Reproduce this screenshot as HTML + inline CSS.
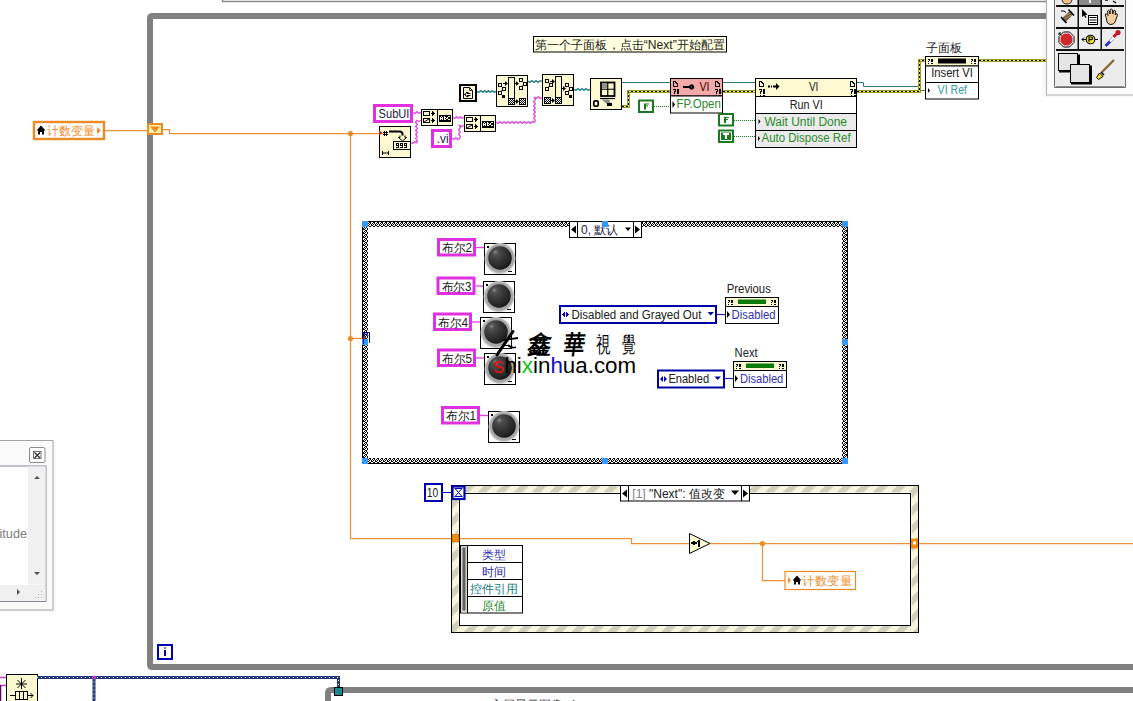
<!DOCTYPE html>
<html><head><meta charset="utf-8">
<style>
html,body{margin:0;padding:0;background:#fff;width:1133px;height:701px;overflow:hidden}
svg{display:block;font-family:"Liberation Sans",sans-serif}
text{font-family:"Liberation Sans",sans-serif}
</style></head><body>
<svg width="1133" height="701" viewBox="0 0 1133 701">
<defs>
  <pattern id="chk" x="2" y="2" width="4" height="4" patternUnits="userSpaceOnUse">
    <rect width="4" height="4" fill="#fff"/>
    <rect x="0" y="0" width="1" height="2" fill="#000"/><rect x="3" y="0" width="1" height="1" fill="#000"/>
    <rect x="2" y="1" width="1" height="1" fill="#000"/><rect x="1" y="2" width="1" height="2" fill="#000"/>
    <rect x="3" y="2" width="1" height="1" fill="#000"/><rect x="2" y="3" width="1" height="1" fill="#000"/>
  </pattern>
  <pattern id="stripe" x="0" y="0" width="12.7" height="12.7" patternUnits="userSpaceOnUse" patternTransform="rotate(45)">
    <rect width="12.7" height="12.7" fill="#f7f5dc"/>
    <rect width="6.3" height="12.7" fill="#cfcfbb"/>
  </pattern>
  <pattern id="refw" x="0" y="0" width="4" height="4" patternUnits="userSpaceOnUse">
    <rect width="4" height="4" fill="#000"/>
    <rect x="1" y="1" width="2" height="2" fill="#f0e040"/>
  </pattern>
</defs>

<!-- top window edge -->
<path d="M222.5 0 V1.5 H1050" fill="none" stroke="#8c8c8c" stroke-width="1.5"/>

<!-- main while loop frame -->
<path d="M1140 16 H152.5 Q150 16 150 18.5 V664.5 Q150 667 152.5 667 H1140" fill="none" stroke="#808080" stroke-width="6"/>

<!-- second frame bottom -->
<path d="M1140 690 H331 Q328 690 328 693 V710" fill="none" stroke="#808080" stroke-width="6"/>

<!-- ===== wires (orange) ===== -->
<g fill="none" stroke="#e8923a" stroke-width="1.25">
  <path d="M105 130.5 H147"/>
  <path d="M163 129.5 H169.5 V133.5 H379"/>
  <path d="M350.5 133.5 V538.5 H452"/>
  <path d="M350.5 338.5 H362"/>
  <path d="M459 538.5 H631.5 V543.5 H689"/>
  <path d="M710 543.5 H911"/>
  <path d="M918 543.5 H1133"/>
  <path d="M762.5 543.5 V580.5 H785"/>
</g>
<circle cx="350.5" cy="133.5" r="2.6" fill="#f08a20"/>
<circle cx="350.5" cy="338.5" r="2.6" fill="#f08a20"/>
<circle cx="762.5" cy="543.5" r="2.6" fill="#f08a20"/>

<!-- local variable left -->
<rect x="34" y="122" width="70" height="17" fill="#fff" stroke="#ec8a26" stroke-width="2.4"/>
<path d="M36.5 130.5 L41 125.5 L45.5 130.5 H44 V134.5 H42 V132 H40 V134.5 H38 V130.5Z" fill="#000"/>
<text x="46.5" y="135" font-size="12" fill="#f09030" textLength="48" lengthAdjust="spacingAndGlyphs">计数变量</text>
<path d="M97 127 L101 130.5 L97 134Z" fill="#f09030"/>

<!-- shift register -->
<rect x="148" y="124" width="14" height="10" fill="#fff0a8" stroke="#ec8a26" stroke-width="2"/>
<path d="M150 126.5 H160 L155 132.5Z" fill="#f08a20"/>


<!-- ===== comment ===== -->
<rect x="533.5" y="36.5" width="193" height="15.5" fill="#ffffe1" stroke="#000" stroke-width="1"/>
<text x="535" y="49" font-size="12" fill="#202020" textLength="190" lengthAdjust="spacingAndGlyphs">第一个子面板，点击“Next”开始配置</text>

<!-- ===== magenta string wires ===== -->
<g fill="none" stroke="#e040e0" stroke-width="1.3">
<path d="M413.0 112.5 L415.0 113.4 L417.0 111.6 L419.0 113.4 L421.0 112.5"/>
<path d="M411.0 142.5 L412.83 143.4 L414.67 141.6 L416.5 142.5 L416.5 142.5 L417.4 140.5 L415.6 138.5 L417.4 136.5 L415.6 134.5 L417.4 132.5 L415.6 130.5 L417.4 128.5 L415.6 126.5 L417.4 124.5 L415.6 122.5 L416.5 120.5 L416.5 120.5 L418.75 121.4 L421.0 120.5"/>
<path d="M453.0 117.5 L454.83 118.4 L456.67 116.6 L458.5 118.4 L460.33 116.6 L462.17 118.4 L464.0 117.5"/>
<path d="M452.0 138.5 L453.88 139.4 L455.75 137.6 L457.62 139.4 L459.5 138.5 L459.5 138.5 L460.4 136.33 L458.6 134.17 L460.4 132.0 L458.6 129.83 L460.4 127.67 L459.5 125.5 L459.5 125.5 L461.75 126.4 L464.0 125.5"/>
<path d="M496.0 122.5 L498.03 123.4 L500.05 121.6 L502.08 123.4 L504.11 121.6 L506.13 123.4 L508.16 121.6 L510.18 123.4 L512.21 121.6 L514.24 123.4 L516.26 121.6 L518.29 123.4 L520.32 121.6 L522.34 123.4 L524.37 121.6 L526.39 123.4 L528.42 121.6 L530.45 123.4 L532.47 121.6 L534.5 122.5 L534.5 122.5 L535.4 120.42 L533.6 118.33 L535.4 116.25 L533.6 114.17 L535.4 112.08 L533.6 110.0 L535.4 107.92 L533.6 105.83 L535.4 103.75 L533.6 101.67 L535.4 99.58 L534.5 97.5 L534.5 97.5 L536.38 98.4 L538.25 96.6 L540.12 98.4 L542.0 97.5"/>
</g>
<!-- teal path wires -->
<g fill="none" stroke="#1f7f80" stroke-width="1.4">
<path d="M477.0 91.5 L478.9 92.3 L480.8 90.7 L482.7 92.3 L484.6 90.7 L486.5 92.3 L488.4 90.7 L490.3 92.3 L492.2 90.7 L494.1 92.3 L496.0 91.5"/>
<path d="M528.0 81.5 L530.0 82.3 L532.0 80.7 L534.0 82.3 L536.0 80.7 L538.0 82.3 L540.0 80.7 L542.0 81.5"/>
<path d="M574.0 89.5 L576.0 90.3 L578.0 88.7 L580.0 90.3 L582.0 88.7 L584.0 90.3 L586.0 88.7 L588.0 90.3 L590.0 89.5"/>
</g>
<g fill="none" stroke="#2f7880" stroke-width="1">
  <path d="M622 82.5 H670"/>
  <path d="M723 82.5 H755"/>
  <path d="M857 82.5 H863.5 V86.5 H919.5 V90.5 H925"/>
</g>
<!-- refnum wires (yellow/black) -->
<g fill="none">
  <path d="M622 106.5 H628.5 V91.5 H670 M723 91.5 H755 M857 91.5 H919.5 V60.5 H925 M979 60.5 H1050" stroke="#9c9c20" stroke-width="3"/>
  <path d="M622 106.5 H628.5 V91.5 H670 M723 91.5 H755 M857 91.5 H919.5 V60.5 H925 M979 60.5 H1050" stroke="#f2f048" stroke-width="1"/>
  <path d="M622 106.5 H628.5 V91.5 H670 M723 91.5 H755 M857 91.5 H919.5 V60.5 H925 M979 60.5 H1050" stroke="#000" stroke-width="1" stroke-dasharray="2 2"/>
</g>
<!-- green boolean wires -->
<g fill="none" stroke="#1a7a1a" stroke-width="1" stroke-dasharray="1 1">
  <path d="M654 106.5 H670"/>
  <path d="M734 120.5 H755"/>
  <path d="M734 136.5 H755"/>
</g>

<!-- SubUI constant -->
<rect x="374.5" y="105.5" width="37" height="16" fill="#fff" stroke="#e030e0" stroke-width="3"/>
<text x="378.6" y="117.5" font-size="12" fill="#202040" textLength="30.8" lengthAdjust="spacingAndGlyphs">SubUI</text>
<!-- .vi constant -->
<rect x="432.5" y="130.5" width="18" height="16" fill="#fff" stroke="#e030e0" stroke-width="3"/>
<text x="436.8" y="142.5" font-size="12" fill="#202040" textLength="11.8" lengthAdjust="spacingAndGlyphs">.vi</text>

<!-- Number to string -->
<g>
<rect x="379.5" y="126.5" width="31" height="31" fill="#fcf8d0" stroke="#000" stroke-width="1"/>
<path d="M379 130.5 L383 133 L379 135.5Z" fill="#d02010"/>
<path d="M384 131h1v1h-1zM386 131h1v1h-1zM383 132h5v1h-5zM384 133h1v1h-1zM386 133h1v1h-1zM383 134h5v1h-5zM384 135h1v1h-1zM386 135h1v1h-1z" fill="#000"/>
<path d="M389 131.5 H399.5 Q402.5 131.5 402.5 134 V136.5" fill="none" stroke="#000" stroke-width="2"/>
<path d="M400 135.5 V137.5 H398.5 L402.5 141 L406.5 137.5 H405 V135.5" fill="#fcf8d0" stroke="#000" stroke-width="1"/>
<rect x="393.5" y="141.5" width="17" height="8" fill="#fcf8d0" stroke="#000" stroke-width="1"/>
<path d="M396 143h3v1h-3zM400 143h3v1h-3zM404 143h3v1h-3zM396 144h1v1h-1zM398 144h1v1h-1zM400 144h1v1h-1zM402 144h1v1h-1zM404 144h1v1h-1zM406 144h1v1h-1zM396 145h3v1h-3zM400 145h3v1h-3zM404 145h3v1h-3zM398 146h1v1h-1zM402 146h1v1h-1zM406 146h1v1h-1zM396 147h3v1h-3zM400 147h3v1h-3zM404 147h3v1h-3z" fill="#000"/>
<path d="M382.5 151 V155 M388.5 151 V155 M383 153 H388" stroke="#000" stroke-width="1" fill="none"/>
</g>
<!-- Concat 1 & 2 -->
<g id="cc">
<rect x="421.5" y="109.5" width="31" height="16" fill="#fcf8d0" stroke="#000" stroke-width="1"/>
<path d="M437.5 109.5 V125.5" stroke="#000" stroke-width="1"/>
<rect x="423.5" y="111.5" width="6" height="4" fill="#fcf8d0" stroke="#000" stroke-width="1"/>
<rect x="423.5" y="118.5" width="6" height="4" fill="#fcf8d0" stroke="#000" stroke-width="1"/>
<path d="M424 122 L429 119" stroke="#000" stroke-width="1"/>
<path d="M433 112h1v1h-1zM431 113h4v1h-4zM433 114h1v1h-1zM433 119h1v1h-1zM431 120h4v1h-4zM433 121h1v1h-1zM432 111h1v5h-1z M432 118h1v5h-1z" fill="#000"/>
<rect x="439" y="115" width="12" height="7" fill="#000"/>
<path d="M441 116h1v1h-1zM444 116h1v1h-1zM448 116h2v1h-2zM440 117h1v1h-1zM442 117h1v1h-1zM444 117h2v1h-2zM447 117h1v1h-1zM440 118h3v1h-3zM444 118h1v1h-1zM446 118h2v1h-2zM440 119h1v1h-1zM442 119h1v1h-1zM444 119h2v1h-2zM448 119h2v1h-2z" fill="#fcf8d0"/>
</g>
<use href="#cc" x="43" y="6"/>

<!-- File path constant icon -->
<rect x="459" y="84" width="18" height="18" fill="#000"/>
<rect x="461" y="86" width="14" height="14" fill="#fcf8d8"/>
<path d="M463.5 87.5 H469.5 L472.5 90.5 V98.5 H463.5Z" fill="#fcf8d8" stroke="#000" stroke-width="1"/>
<path d="M469.5 87.5 V90.5 H472.5" fill="none" stroke="#000" stroke-width="0.8"/>
<path d="M468.5 92.5 H467 Q465.5 92.5 465.5 94.5 Q465.5 96.5 467 96.5 H468.5 M467 93.5 H470.5 M467 95.5 H470.5 M465 94.5 H464" fill="none" stroke="#000" stroke-width="1"/>
<!-- Node A -->
<g>
<rect x="496.5" y="75.5" width="31" height="31" fill="#fcf8d0" stroke="#000" stroke-width="1"/>
<rect x="508.5" y="77.5" width="6" height="21" fill="#fcf8d0" stroke="#000" stroke-width="1"/>
<rect x="508" y="98" width="7" height="7" fill="#000"/><rect x="509" y="99" width="1" height="1" fill="#fff"/><rect x="511" y="99" width="1" height="1" fill="#fff"/><rect x="513" y="99" width="1" height="1" fill="#fff"/><rect x="510" y="100" width="1" height="1" fill="#fff"/><rect x="512" y="100" width="1" height="1" fill="#fff"/><rect x="509" y="101" width="1" height="1" fill="#fff"/><rect x="511" y="101" width="1" height="1" fill="#fff"/><rect x="513" y="101" width="1" height="1" fill="#fff"/><rect x="510" y="102" width="1" height="1" fill="#fff"/><rect x="512" y="102" width="1" height="1" fill="#fff"/><rect x="509" y="103" width="1" height="1" fill="#fff"/><rect x="511" y="103" width="1" height="1" fill="#fff"/><rect x="513" y="103" width="1" height="1" fill="#fff"/>
<rect x="519" y="98" width="7" height="7" fill="#000"/><rect x="520" y="99" width="1" height="1" fill="#fff"/><rect x="522" y="99" width="1" height="1" fill="#fff"/><rect x="524" y="99" width="1" height="1" fill="#fff"/><rect x="521" y="100" width="1" height="1" fill="#fff"/><rect x="523" y="100" width="1" height="1" fill="#fff"/><rect x="520" y="101" width="1" height="1" fill="#fff"/><rect x="522" y="101" width="1" height="1" fill="#fff"/><rect x="524" y="101" width="1" height="1" fill="#fff"/><rect x="521" y="102" width="1" height="1" fill="#fff"/><rect x="523" y="102" width="1" height="1" fill="#fff"/><rect x="520" y="103" width="1" height="1" fill="#fff"/><rect x="522" y="103" width="1" height="1" fill="#fff"/><rect x="524" y="103" width="1" height="1" fill="#fff"/>
<path d="M515 102h1v-1h-1z M516 99 L519 101.5 L516 104Z" fill="#000"/>
<rect x="498.5" y="83.5" width="3" height="3" fill="none" stroke="#000" stroke-width="1"/>
<rect x="502.5" y="87.5" width="3" height="3" fill="none" stroke="#000" stroke-width="1"/>
<rect x="498.5" y="91.5" width="3" height="3" fill="none" stroke="#000" stroke-width="1"/>
<rect x="502" y="95" width="3" height="3" fill="#000"/>
<path d="M501.5 86.5 L502.5 87.5" stroke="#000" stroke-width="1"/>
<path d="M501.5 90.5 L502.5 89.5" stroke="#000" stroke-width="1"/>
<path d="M501.5 94.5 L502.5 95.5" stroke="#000" stroke-width="1"/>
<path d="M503 84h2v-1h-2z M505 81 L508 83.5 L505 86Z" fill="#000"/>
<rect x="519.5" y="78.5" width="3" height="3" fill="none" stroke="#000" stroke-width="1"/>
<rect x="523.5" y="82.5" width="3" height="3" fill="none" stroke="#000" stroke-width="1"/>
<rect x="519.5" y="86.5" width="3" height="3" fill="none" stroke="#000" stroke-width="1"/>
<path d="M522.5 81.5 L523.5 82.5" stroke="#000" stroke-width="1"/>
<path d="M522.5 85.5 L523.5 84.5" stroke="#000" stroke-width="1"/>
<path d="M515 84h1v-1h-1z M516 81 L519 83.5 L516 86Z" fill="#000"/>
</g>
<!-- Node B -->
<g>
<rect x="542.5" y="74.5" width="31" height="31" fill="#fcf8d0" stroke="#000" stroke-width="1"/>
<rect x="555.5" y="76.5" width="6" height="21" fill="#fcf8d0" stroke="#000" stroke-width="1"/>
<rect x="544" y="97" width="7" height="7" fill="#000"/><rect x="545" y="98" width="1" height="1" fill="#fff"/><rect x="547" y="98" width="1" height="1" fill="#fff"/><rect x="549" y="98" width="1" height="1" fill="#fff"/><rect x="546" y="99" width="1" height="1" fill="#fff"/><rect x="548" y="99" width="1" height="1" fill="#fff"/><rect x="545" y="100" width="1" height="1" fill="#fff"/><rect x="547" y="100" width="1" height="1" fill="#fff"/><rect x="549" y="100" width="1" height="1" fill="#fff"/><rect x="546" y="101" width="1" height="1" fill="#fff"/><rect x="548" y="101" width="1" height="1" fill="#fff"/><rect x="545" y="102" width="1" height="1" fill="#fff"/><rect x="547" y="102" width="1" height="1" fill="#fff"/><rect x="549" y="102" width="1" height="1" fill="#fff"/>
<rect x="555" y="97" width="7" height="7" fill="#000"/><rect x="556" y="98" width="1" height="1" fill="#fff"/><rect x="558" y="98" width="1" height="1" fill="#fff"/><rect x="560" y="98" width="1" height="1" fill="#fff"/><rect x="557" y="99" width="1" height="1" fill="#fff"/><rect x="559" y="99" width="1" height="1" fill="#fff"/><rect x="556" y="100" width="1" height="1" fill="#fff"/><rect x="558" y="100" width="1" height="1" fill="#fff"/><rect x="560" y="100" width="1" height="1" fill="#fff"/><rect x="557" y="101" width="1" height="1" fill="#fff"/><rect x="559" y="101" width="1" height="1" fill="#fff"/><rect x="556" y="102" width="1" height="1" fill="#fff"/><rect x="558" y="102" width="1" height="1" fill="#fff"/><rect x="560" y="102" width="1" height="1" fill="#fff"/>
<path d="M551 101h1v-1h-1z M552 98 L555 100.5 L552 103Z" fill="#000"/>
<rect x="545.5" y="79.5" width="3" height="3" fill="none" stroke="#000" stroke-width="1"/>
<rect x="549.5" y="83.5" width="3" height="3" fill="none" stroke="#000" stroke-width="1"/>
<rect x="545.5" y="87.5" width="3" height="3" fill="none" stroke="#000" stroke-width="1"/>
<path d="M548.5 82.5 L549.5 83.5" stroke="#000" stroke-width="1"/>
<path d="M548.5 86.5 L549.5 85.5" stroke="#000" stroke-width="1"/>
<path d="M550 82h2v-1h-2z M552 79 L555 81.5 L552 84Z" fill="#000"/>
<rect x="565.5" y="83.5" width="3" height="3" fill="none" stroke="#000" stroke-width="1"/>
<rect x="569.5" y="87.5" width="3" height="3" fill="none" stroke="#000" stroke-width="1"/>
<rect x="565.5" y="91.5" width="3" height="3" fill="none" stroke="#000" stroke-width="1"/>
<rect x="569" y="95" width="3" height="3" fill="#000"/>
<path d="M568.5 86.5 L569.5 87.5" stroke="#000" stroke-width="1"/>
<path d="M568.5 90.5 L569.5 89.5" stroke="#000" stroke-width="1"/>
<path d="M568.5 94.5 L569.5 95.5" stroke="#000" stroke-width="1"/>
<path d="M562 89h1v-1h-1z M563 86 L566 88.5 L563 91Z" fill="#000"/>
</g>
<!-- Node C (index/subpanel ref) -->
<g>
<rect x="590.5" y="78.5" width="31" height="31" fill="#fcf8d0" stroke="#000" stroke-width="1"/>
<rect x="601" y="82.5" width="13.5" height="13.5" fill="#fcf8d0" stroke="#000" stroke-width="1.8"/>
<path d="M607.75 82.5 V96 M601 89.25 H614.5" stroke="#000" stroke-width="1.2"/>
<rect x="602" y="83.5" width="5" height="5" fill="#909090"/>
<path d="M600 98.5 H615" stroke="#000" stroke-width="1.2"/>
<path d="M601.5 99.5 H609 L611 104 H607Z" fill="#8a8a8a"/>
<rect x="607" y="103" width="5" height="3" fill="#000"/>
<rect x="593.8" y="100.8" width="4.4" height="5.4" fill="none" stroke="#000" stroke-width="1.7" rx="1.5"/>
</g>
<!-- F constant -->
<rect x="639" y="100.5" width="14" height="11.5" fill="#fff" stroke="#1a7a22" stroke-width="2"/><path d="M644 103.5h5v1h-5zM644 104.5h2v1h-2zM644 105.5h4v1h-4zM644 106.5h2v1h-2zM644 107.5h2v1h-2zM644 108.5h2v1h-2z" fill="#1a7a22"/>

<!-- Property node FP.Open -->
<rect x="670.5" y="78.5" width="52" height="17.5" fill="#f4a9a9" stroke="#000" stroke-width="1"/>
<rect x="670.5" y="96" width="52" height="17" fill="#fff" stroke="#000" stroke-width="1"/>
<path d="M673 81h3v1h-3zM673 82h1v1h-1zM675 82h2v1h-2zM673 83h1v1h-1zM676 83h2v1h-2zM673 84h1v1h-1zM677 84h1v1h-1zM673 85h1v1h-1zM677 85h1v1h-1zM673 86h5v1h-5zM715 81h3v1h-3zM715 82h1v1h-1zM717 82h2v1h-2zM715 83h1v1h-1zM718 83h2v1h-2zM715 84h1v1h-1zM719 84h1v1h-1zM715 85h1v1h-1zM719 85h1v1h-1zM715 86h5v1h-5zM673 89h3v1h-3zM677 89h2v1h-2zM675 90h1v1h-1zM677 90h2v1h-2zM674 91h2v1h-2zM677 91h2v1h-2zM674 92h1v1h-1zM677 92h2v1h-2zM674 93h1v1h-1zM677 93h2v1h-2zM674 95h1v1h-1zM677 95h2v1h-2zM715 89h3v1h-3zM719 89h2v1h-2zM717 90h1v1h-1zM719 90h2v1h-2zM716 91h2v1h-2zM719 91h2v1h-2zM716 92h1v1h-1zM719 92h2v1h-2zM716 93h1v1h-1zM719 93h2v1h-2zM716 95h1v1h-1zM719 95h2v1h-2z" fill="#000"/>
<path d="M683 87 H690 M690 87 A1.6 1.6 0 1 0 690 86.99" stroke="#000" stroke-width="2.2" fill="none"/>
<text x="699.5" y="91" font-size="12" fill="#400000" textLength="10" lengthAdjust="spacingAndGlyphs">VI</text>
<path d="M672.5 101 L675 104.5 L672.5 108Z" fill="#000"/>
<text x="676.4" y="108.3" font-size="12" fill="#2a8a2a" textLength="44.4" lengthAdjust="spacingAndGlyphs">FP.Open</text>

<!-- F / T constants for invoke -->
<rect x="719" y="114" width="14" height="11.5" fill="#fff" stroke="#1a7a22" stroke-width="2"/><path d="M724 117h5v1h-5zM724 118h2v1h-2zM724 119h4v1h-4zM724 120h2v1h-2zM724 121h2v1h-2zM724 122h2v1h-2z" fill="#1a7a22"/>
<rect x="718" y="129.5" width="16" height="13.5" fill="#1a7a22"/><rect x="720.5" y="132.0" width="11" height="8.5" fill="#1a7a22" stroke="#fff" stroke-width="1"/><path d="M723 133.0h6v1h-6zM723 134.0h6v1h-6zM725 135.0h2v1h-2zM725 136.0h2v1h-2zM725 137.0h2v1h-2zM725 138.0h2v1h-2z" fill="#fff"/>

<!-- Invoke node Run VI -->
<rect x="755.5" y="78.5" width="101" height="18" fill="#fcf8d0" stroke="#000" stroke-width="1"/>
<rect x="755.5" y="96.5" width="101" height="17" fill="#fff" stroke="#000" stroke-width="1"/>
<rect x="755.5" y="113.5" width="101" height="17" fill="#ebebeb" stroke="#000" stroke-width="1"/>
<rect x="755.5" y="130.5" width="101" height="17" fill="#ebebeb" stroke="#000" stroke-width="1"/>
<path d="M759 81h3v1h-3zM759 82h1v1h-1zM761 82h2v1h-2zM759 83h1v1h-1zM762 83h2v1h-2zM759 84h1v1h-1zM763 84h1v1h-1zM759 85h1v1h-1zM763 85h1v1h-1zM759 86h5v1h-5zM850 81h3v1h-3zM850 82h1v1h-1zM852 82h2v1h-2zM850 83h1v1h-1zM853 83h2v1h-2zM850 84h1v1h-1zM854 84h1v1h-1zM850 85h1v1h-1zM854 85h1v1h-1zM850 86h5v1h-5zM759 89h3v1h-3zM763 89h2v1h-2zM761 90h1v1h-1zM763 90h2v1h-2zM760 91h2v1h-2zM763 91h2v1h-2zM760 92h1v1h-1zM763 92h2v1h-2zM760 93h1v1h-1zM763 93h2v1h-2zM760 95h1v1h-1zM763 95h2v1h-2zM850 89h3v1h-3zM854 89h2v1h-2zM852 90h1v1h-1zM854 90h2v1h-2zM851 91h2v1h-2zM854 91h2v1h-2zM851 92h1v1h-1zM854 92h2v1h-2zM851 93h1v1h-1zM854 93h2v1h-2zM851 95h1v1h-1zM854 95h2v1h-2z" fill="#000"/>
<path d="M768 86.5 H770 M771 86.5 H772 M773 86.5 H778" stroke="#000" stroke-width="2" fill="none"/>
<path d="M776 83 L779.5 86.5 L776 90Z" fill="#000"/>
<text x="808.9" y="90.5" font-size="12" fill="#202020" textLength="9.5" lengthAdjust="spacingAndGlyphs">VI</text>
<text x="789.8" y="108.5" font-size="12" fill="#202020" textLength="33" lengthAdjust="spacingAndGlyphs">Run VI</text>
<path d="M758.5 119 L760.5 121.5 L758.5 124Z" fill="#000"/>
<text x="764.4" y="125.5" font-size="12" fill="#2a8a2a" textLength="82.6" lengthAdjust="spacingAndGlyphs">Wait Until Done</text>
<path d="M758 136 L760 138.5 L758 141Z" fill="#000"/>
<text x="761.6" y="142" font-size="12" fill="#2a8a2a" textLength="89" lengthAdjust="spacingAndGlyphs">Auto Dispose Ref</text>

<!-- Subpanel Insert VI -->
<text x="926" y="52" font-size="12" fill="#202020" textLength="36" lengthAdjust="spacingAndGlyphs">子面板</text>
<rect x="925.5" y="56.5" width="53" height="9.5" fill="#fcf8d0" stroke="#000" stroke-width="1"/>
<rect x="925.5" y="66" width="53" height="16.5" fill="#fff" stroke="#000" stroke-width="1"/>
<rect x="925.5" y="82.5" width="53" height="16.5" fill="#fff" stroke="#000" stroke-width="1"/>
<path d="M928 59h2v1h-2zM931 59h2v1h-2zM929 60h1v1h-1zM931 60h2v1h-2zM928 61h1v1h-1zM931 61h2v1h-2zM928 63h1v1h-1zM931 63h2v1h-2zM971 59h2v1h-2zM974 59h2v1h-2zM972 60h1v1h-1zM974 60h2v1h-2zM971 61h1v1h-1zM974 61h2v1h-2zM971 63h1v1h-1zM974 63h2v1h-2z" fill="#000"/>
<rect x="938" y="58.5" width="28" height="5" fill="#000"/>
<text x="931.2" y="77.4" font-size="12" fill="#202020" textLength="41.7" lengthAdjust="spacingAndGlyphs">Insert VI</text>
<path d="M928 88 L930 90.5 L928 93Z" fill="#000"/>
<text x="937.6" y="94.3" font-size="12" fill="#3a9aa0" textLength="29.4" lengthAdjust="spacingAndGlyphs">VI Ref</text>


<!-- ===== tools palette ===== -->
<g>
<rect x="1043" y="-6" width="100" height="103" fill="#000" opacity="0.03"/>
<rect x="1046.5" y="-2" width="90" height="97" fill="#fdfdfd" stroke="#b0b0b0" stroke-width="1"/>
<rect x="1054" y="-2" width="72" height="89.5" fill="#ececec"/>
<path d="M1054.5 -2 V87.5 H1125.5 V-2" fill="none" stroke="#6a6a6a" stroke-width="1"/>
<rect x="1078" y="-2" width="23" height="8" fill="#8a8a8a"/>
<g fill="#111">
<rect x="1056" y="5" width="68" height="2"/>
<rect x="1056" y="27" width="68" height="2"/>
<rect x="1056" y="49" width="68" height="2"/>
<rect x="1077.5" y="-2" width="1.5" height="51"/>
<rect x="1100.5" y="-2" width="1.5" height="51"/>
</g>
<path d="M1056 86.5 H1124" stroke="#909090" stroke-width="1"/>
<!-- top row partial -->
<path d="M1062 -1 Q1062 4 1067 4 Q1072 4 1072 -1Z" fill="#f4c090" stroke="#000" stroke-width="0.8"/>
<rect x="1089" y="-2" width="2" height="5" fill="#fff"/>
<path d="M1105 0 H1108 M1113 1 L1116 3" stroke="#000" stroke-width="1.5"/>
<!-- spool -->
<path d="M1061.5 19 L1070 10.5 L1073.5 14 L1065 22.5Z" fill="#7a6040"/>
<path d="M1061 17 L1066.5 23 M1068.5 9.5 L1074 15.5" stroke="#000" stroke-width="1.6"/>
<path d="M1063.5 16.5 L1070.5 13 M1064.5 18.5 L1071.5 15" stroke="#c8a878" stroke-width="0.6"/>
<path d="M1061 11 H1064 L1066 12.5" stroke="#000" stroke-width="1" fill="none"/>
<!-- pointer + list -->
<path d="M1082 9 L1082 17 L1084 15.5 L1085.5 18 L1086.5 17.5 L1085.2 15 L1087.5 14.5Z" fill="#000"/>
<rect x="1088.5" y="15.5" width="9" height="9" fill="#fff" stroke="#000" stroke-width="1"/>
<path d="M1089.5 17.5 H1096.5 M1089.5 20 H1096.5 M1089.5 22.5 H1096.5" stroke="#000" stroke-width="1"/>
<!-- hand -->
<path d="M1106 17 Q1104.5 14.5 1106 13.5 L1108 15.5 L1107.5 11 Q1108.5 9.5 1109.5 11 L1110 14 L1110.3 9.5 Q1111.5 8.5 1112.5 9.8 L1112.7 14 L1113.8 10.5 Q1115 9.8 1115.5 11 L1115.2 15 L1116.3 13.5 Q1117.8 13.5 1117.4 15.5 L1115 22 Q1114 24.5 1111 24.5 Q1108 24.5 1107 22Z" fill="#f8cc9c" stroke="#000" stroke-width="0.9"/>
<!-- stop -->
<path d="M1063.5 32 H1069.5 L1074 36.5 V42.5 L1069.5 47 H1063.5 L1059 42.5 V36.5Z" fill="#fff" stroke="#000" stroke-width="1"/>
<path d="M1064 33.5 H1069 L1072.5 37 V42 L1069 45.5 H1064 L1060.5 42 V37Z" fill="#d02828"/>
<path d="M1059 33 L1061.5 35.5 M1059 33 H1061 M1059 33 V35" stroke="#000" stroke-width="1"/>
<!-- probe -->
<circle cx="1090.5" cy="39.5" r="4.3" fill="#f0e830" stroke="#000" stroke-width="1.1"/>
<path d="M1089 42 V37 H1091.3 Q1092.5 37 1092.5 38.3 Q1092.5 39.6 1091.3 39.6 H1089" fill="none" stroke="#000" stroke-width="1.1"/>
<path d="M1082 39.5 H1086 M1095 39.5 H1098" stroke="#000" stroke-width="1"/>
<path d="M1084 37.5 L1082 39.5 L1084 41.5" fill="none" stroke="#000" stroke-width="1"/>
<!-- dropper -->
<path d="M1105.5 46 L1113 38.5" stroke="#2838b8" stroke-width="3"/>
<path d="M1110 41.5 L1114.5 37" stroke="#fff" stroke-width="2.4"/>
<path d="M1113.5 37 L1116.5 34" stroke="#c01828" stroke-width="3"/>
<circle cx="1118" cy="32.5" r="2.6" fill="#c81830"/>
<!-- color squares -->
<rect x="1058.5" y="53.5" width="19" height="17" fill="#e4e4e4" stroke="#000" stroke-width="1"/>
<path d="M1059 71.5 H1079 V54.5" stroke="#000" stroke-width="2" fill="none"/>
<rect x="1070.5" y="64.5" width="19" height="18" fill="#e4e4e4" stroke="#000" stroke-width="1"/>
<path d="M1071 83.5 H1091 V65.5" stroke="#000" stroke-width="2" fill="none"/>
<!-- brush -->
<path d="M1102 72 L1114 60" stroke="#8a6a40" stroke-width="2.4"/>
<path d="M1099.5 73 L1103 76.5 L1098.5 79.5 L1096.5 77.5Z" fill="#f0e020" stroke="#000" stroke-width="1"/>
<path d="M1101 72 L1104 75" stroke="#000" stroke-width="1.5"/>
</g>

<!-- ===== case structure ===== -->
<g>
<rect x="365.5" y="224.5" width="479" height="236" fill="none" stroke="url(#chk)" stroke-width="5"/>
<rect x="362.5" y="221.5" width="485" height="242" fill="none" stroke="#000" stroke-width="1"/>
<g fill="#3399ff">
<rect x="362" y="221" width="6" height="6"/><rect x="602" y="221" width="6" height="6"/><rect x="842" y="221" width="6" height="6"/>
<rect x="362" y="339" width="6" height="6"/><rect x="842" y="339" width="6" height="6"/>
<rect x="362" y="458" width="6" height="6"/><rect x="602" y="458" width="6" height="6"/><rect x="842" y="458" width="6" height="6"/>
</g>
<!-- case selector terminal -->
<path d="M363.5 344 V332.5 H369.5 V343" fill="none" stroke="#0000a0" stroke-width="1"/>
<path d="M366 338 A2 2 0 1 1 368 336" fill="none" stroke="#0000a0" stroke-width="1"/>
<path d="M363 336 L366 338.5 L363 340Z" fill="#d01010"/>
<!-- case label -->
<rect x="569.5" y="221.5" width="72" height="16" fill="#fff" stroke="#000" stroke-width="1"/>
<path d="M577.5 221.5 V237.5 M633.5 221.5 V237.5" stroke="#000" stroke-width="1"/>
<path d="M571 229.5 L576 225.5 V233.5Z M640 229.5 L635 225.5 V233.5Z" fill="#000"/>
<path d="M625 227.5 H631 L628 231Z" fill="#000"/>
<text x="581" y="234" font-size="12" fill="#202040">0, 默认</text>
<rect x="602" y="221" width="6" height="6" fill="#3399ff"/>
</g>

<!-- labels + LEDs -->
<g id="leds">
<defs><radialGradient id="ball" cx="0.35" cy="0.32" r="0.75" fx="0.3" fy="0.25"><stop offset="0" stop-color="#8c8c8c"/><stop offset="0.15" stop-color="#505050"/><stop offset="0.5" stop-color="#363636"/><stop offset="0.85" stop-color="#222"/><stop offset="1" stop-color="#0e0e0e"/></radialGradient>
<radialGradient id="ring" cx="0.5" cy="0.5" r="0.5"><stop offset="0.75" stop-color="#a8a8a8"/><stop offset="1" stop-color="#cfcfcf"/></radialGradient></defs>
<path d="M476 247.5 H484" stroke="#e448e4" stroke-width="1.4"/>
<rect x="438.5" y="239.5" width="36" height="15.5" fill="#fff" stroke="#e030e0" stroke-width="3"/>
<text x="442" y="252" font-size="12" fill="#202020" textLength="30" lengthAdjust="spacingAndGlyphs">布尔2</text>
<rect x="484.5" y="243.5" width="31" height="31" fill="#fff" stroke="#000" stroke-width="1"/>
<circle cx="500" cy="258.5" r="15.4" fill="#cdcdcd"/><circle cx="500" cy="258.5" r="14.2" fill="#a6a6a6"/>
<circle cx="500" cy="258.0" r="11.8" fill="url(#ball)"/>
<path d="M508 271.5 H512" stroke="#000" stroke-width="1"/>
<path d="M475.5 286.0 H483" stroke="#e448e4" stroke-width="1.4"/>
<rect x="438.0" y="278.0" width="36" height="15.5" fill="#fff" stroke="#e030e0" stroke-width="3"/>
<text x="441.5" y="290.5" font-size="12" fill="#202020" textLength="30" lengthAdjust="spacingAndGlyphs">布尔3</text>
<rect x="483.5" y="281.5" width="31" height="31" fill="#fff" stroke="#000" stroke-width="1"/>
<circle cx="499" cy="296.5" r="15.4" fill="#cdcdcd"/><circle cx="499" cy="296.5" r="14.2" fill="#a6a6a6"/>
<circle cx="499" cy="296.0" r="11.8" fill="url(#ball)"/>
<path d="M507 309.5 H511" stroke="#000" stroke-width="1"/>
<path d="M472 322.0 H480" stroke="#e448e4" stroke-width="1.4"/>
<rect x="434.5" y="314.0" width="36" height="15.5" fill="#fff" stroke="#e030e0" stroke-width="3"/>
<text x="438" y="326.5" font-size="12" fill="#202020" textLength="30" lengthAdjust="spacingAndGlyphs">布尔4</text>
<rect x="480.5" y="317.5" width="31" height="31" fill="#fff" stroke="#000" stroke-width="1"/>
<circle cx="496" cy="332.5" r="15.4" fill="#cdcdcd"/><circle cx="496" cy="332.5" r="14.2" fill="#a6a6a6"/>
<circle cx="496" cy="332.0" r="11.8" fill="url(#ball)"/>
<path d="M504 345.5 H508" stroke="#000" stroke-width="1"/>
<path d="M476 358.0 H484" stroke="#e448e4" stroke-width="1.4"/>
<rect x="438.5" y="350.0" width="36" height="15.5" fill="#fff" stroke="#e030e0" stroke-width="3"/>
<text x="442" y="362.5" font-size="12" fill="#202020" textLength="30" lengthAdjust="spacingAndGlyphs">布尔5</text>
<rect x="484.5" y="353.5" width="31" height="31" fill="#fff" stroke="#000" stroke-width="1"/>
<circle cx="500" cy="368.5" r="15.4" fill="#cdcdcd"/><circle cx="500" cy="368.5" r="14.2" fill="#a6a6a6"/>
<circle cx="500" cy="368.0" r="11.8" fill="url(#ball)"/>
<path d="M508 381.5 H512" stroke="#000" stroke-width="1"/>
<path d="M480 415.5 H488" stroke="#e448e4" stroke-width="1.4"/>
<rect x="442.5" y="407.5" width="36" height="15.5" fill="#fff" stroke="#e030e0" stroke-width="3"/>
<text x="446" y="420" font-size="12" fill="#202020" textLength="30" lengthAdjust="spacingAndGlyphs">布尔1</text>
<rect x="488.5" y="411.5" width="31" height="31" fill="#fff" stroke="#000" stroke-width="1"/>
<circle cx="504" cy="426.5" r="15.4" fill="#cdcdcd"/><circle cx="504" cy="426.5" r="14.2" fill="#a6a6a6"/>
<circle cx="504" cy="426.0" r="11.8" fill="url(#ball)"/>
<path d="M512 439.5 H516" stroke="#000" stroke-width="1"/>
</g>


<g fill="#000"><rect x="487" y="246" width="2" height="2"/><rect x="486" y="284" width="2" height="2"/><rect x="483" y="320" width="2" height="2"/><rect x="487" y="356" width="2" height="2"/><rect x="491" y="414" width="2" height="2"/></g>
<!-- enums + property nodes -->
<g>
<path d="M717 314.5 H725" stroke="#2020a0" stroke-width="1.2"/>
<rect x="560" y="306" width="156" height="17" fill="#fff" stroke="#0000a8" stroke-width="2"/>
<path d="M564 312h1v5h-1z M563 313h1v3h-1z M562 314h1v1h-1z M566 312h1v5h-1z M567 313h1v3h-1z M568 314h1v1h-1z" fill="#0000a8"/>
<text x="571.4" y="318.5" font-size="12" fill="#202020" textLength="130" lengthAdjust="spacingAndGlyphs">Disabled and Grayed Out</text>
<path d="M707.5 312 H714 L710.7 315.5Z" fill="#0000a8"/>
<text x="726.8" y="293" font-size="12" fill="#202020" textLength="44" lengthAdjust="spacingAndGlyphs">Previous</text>
<rect x="725.5" y="297.5" width="53" height="9" fill="#fcf8d0" stroke="#000" stroke-width="1"/>
<rect x="725.5" y="306.5" width="53" height="17" fill="#fff" stroke="#000" stroke-width="1"/>
<rect x="738" y="299.5" width="28" height="4.5" fill="#0a7a0a"/>
<path d="M728 300h2v1h-2zM731 300h2v1h-2zM729 301h1v1h-1zM731 301h2v1h-2zM728 302h1v1h-1zM731 302h2v1h-2zM728 304h1v1h-1zM731 304h2v1h-2zM771 300h2v1h-2zM774 300h2v1h-2zM772 301h1v1h-1zM774 301h2v1h-2zM771 302h1v1h-1zM774 302h2v1h-2zM771 304h1v1h-1zM774 304h2v1h-2z" fill="#000"/>
<path d="M727 311 L730 314.5 L727 318Z" fill="#000"/>
<text x="731.6" y="318.6" font-size="12" fill="#3030b0" textLength="44" lengthAdjust="spacingAndGlyphs">Disabled</text>

<path d="M725 378.5 H733" stroke="#2020a0" stroke-width="1.2"/>
<rect x="658" y="370.5" width="66" height="17" fill="#fff" stroke="#0000a8" stroke-width="2"/>
<path d="M662 376.5h1v5h-1z M661 377.5h1v3h-1z M660 378.5h1v1h-1z M664 376.5h1v5h-1z M665 377.5h1v3h-1z M666 378.5h1v1h-1z" fill="#0000a8"/>
<text x="668.4" y="382.6" font-size="12" fill="#202020" textLength="40.7" lengthAdjust="spacingAndGlyphs">Enabled</text>
<path d="M714.5 376.5 H721 L717.7 380Z" fill="#0000a8"/>
<text x="734.6" y="357" font-size="12" fill="#202020" textLength="23" lengthAdjust="spacingAndGlyphs">Next</text>
<rect x="733.5" y="361.5" width="53" height="9" fill="#fcf8d0" stroke="#000" stroke-width="1"/>
<rect x="733.5" y="370.5" width="53" height="17" fill="#fff" stroke="#000" stroke-width="1"/>
<rect x="746" y="363.5" width="28" height="4.5" fill="#0a7a0a"/>
<path d="M736 364h2v1h-2zM739 364h2v1h-2zM737 365h1v1h-1zM739 365h2v1h-2zM736 366h1v1h-1zM739 366h2v1h-2zM736 368h1v1h-1zM739 368h2v1h-2zM779 364h2v1h-2zM782 364h2v1h-2zM780 365h1v1h-1zM782 365h2v1h-2zM779 366h1v1h-1zM782 366h2v1h-2zM779 368h1v1h-1zM782 368h2v1h-2z" fill="#000"/>
<path d="M735 375 L738 378.5 L735 382Z" fill="#000"/>
<text x="740" y="382.6" font-size="12" fill="#3030b0" textLength="43.3" lengthAdjust="spacingAndGlyphs">Disabled</text>
</g>

<!-- watermark -->
<g>
<path d="M497 355 Q505 343 513 331.5" stroke="#000" stroke-width="3" fill="none" stroke-linecap="round"/>
<path d="M503 340 L518 338 M508 345 Q512 349 516 347" stroke="#000" stroke-width="1.8" fill="none"/>
<text x="527" y="353" font-size="25" font-weight="bold" fill="#000" textLength="23.5" lengthAdjust="spacingAndGlyphs" transform="skewX(-8) translate(49.5 0)">鑫</text>
<text x="563" y="353" font-size="25" font-weight="bold" fill="#000" textLength="21" lengthAdjust="spacingAndGlyphs" transform="skewX(-8) translate(49.5 0)">華</text>
<text x="596" y="352" font-size="22" font-weight="300" fill="#000" textLength="14.5" lengthAdjust="spacingAndGlyphs">視</text>
<text x="622" y="352" font-size="22" font-weight="300" fill="#000" textLength="13.5" lengthAdjust="spacingAndGlyphs">覺</text>
<text x="493.2" y="372.7" font-size="22.4" fill="#000" textLength="143" lengthAdjust="spacingAndGlyphs"><tspan fill="#e01010">s</tspan>hi<tspan fill="#10c010">x</tspan>in<tspan fill="#1010c0">h</tspan>ua.com</text>
</g>

<!-- ===== event structure ===== -->
<g>
<path d="M455 489 H915 V629 H455Z" fill="none" stroke="url(#stripe)" stroke-width="7"/>
<rect x="451.5" y="485.5" width="467" height="147" fill="none" stroke="#000" stroke-width="1"/>
<rect x="459.5" y="493.5" width="451" height="132" fill="none" stroke="#000" stroke-width="1"/>
<!-- timeout -->
<rect x="425" y="484" width="17" height="17" fill="#fff" stroke="#0000b0" stroke-width="2"/>
<text x="426.7" y="496.7" font-size="12" fill="#202020" textLength="11.6" lengthAdjust="spacingAndGlyphs">10</text>
<path d="M443 492.5 H452" stroke="#0000b0" stroke-width="1"/>
<rect x="452.5" y="486.5" width="12" height="12.5" fill="#fff" stroke="#0000b0" stroke-width="2.2"/>
<path d="M454.5 488.5 H462.5 M454.5 496.5 H462.5" stroke="#0000b0" stroke-width="1.2"/><path d="M455.5 489 L458.5 492.5 L461.5 489 M455.5 496 L458.5 492.5 L461.5 496" fill="none" stroke="#0000b0" stroke-width="1"/>
<!-- selector -->
<rect x="620.5" y="485.5" width="129" height="15.5" fill="#fff" stroke="#000" stroke-width="1"/>
<path d="M628.5 485.5 V501 M741.5 485.5 V501" stroke="#000" stroke-width="1"/>
<path d="M622 493.5 L627 489.5 V497.5Z M748 493.5 L743 489.5 V497.5Z" fill="#000"/>
<path d="M731 490.5 H739 L735 495Z" fill="#000"/>
<text x="632.3" y="498" font-size="12" fill="#202020"><tspan fill="#808080">[1]</tspan> "Next": 值改变</text>
<!-- tunnels -->
<rect x="452" y="534.5" width="7" height="7.5" fill="#f08a10" stroke="#c06000" stroke-width="0.5"/>
<rect x="911" y="538.5" width="7" height="10" fill="#f08a10"/>
<rect x="913" y="541.5" width="3" height="3" fill="#fff"/>
<!-- event data node -->
<rect x="460.5" y="545.5" width="62" height="67.5" fill="#fff" stroke="#000" stroke-width="1"/>
<rect x="461" y="546" width="6.5" height="66.5" fill="#d8d8c8"/>
<rect x="462.5" y="547.5" width="3" height="63" fill="#606060"/>
<path d="M467.5 545.5 V613 M467.5 562.5 H522.5 M467.5 579.5 H522.5 M467.5 596.5 H522.5" stroke="#000" stroke-width="1" fill="none"/>
<text x="482" y="558.5" font-size="12" fill="#2a2ab0">类型</text>
<text x="482" y="575.5" font-size="12" fill="#2a2ab0">时间</text>
<text x="470" y="592.5" font-size="12" fill="#208080">控件引用</text>
<text x="482" y="609.5" font-size="12" fill="#2a8a2a">原值</text>
<!-- +1 -->
<path d="M689.5 533.5 V553.5 L710 543.5Z" fill="#fcf8d0" stroke="#000" stroke-width="1"/>
<path d="M698 540h2v1h-2zM693 541h2v1h-2zM697 541h3v1h-3zM691 542h6v1h-6zM698 542h2v1h-2zM691 543h6v1h-6zM698 543h2v1h-2zM693 544h2v1h-2zM698 544h2v1h-2zM698 545h2v1h-2zM698 546h2v1h-2z" fill="#000"/>
<!-- local var 2 -->
<rect x="785" y="571.5" width="70.5" height="18" fill="#fff" stroke="#ec8a26" stroke-width="1.2"/>
<path d="M788 577 L791 580.5 L788 584Z" fill="#f09030"/>
<path d="M792.5 580.5 L797 575.5 L801.5 580.5 H800 V584.5 H798 V582 H796 V584.5 H794 V580.5Z" fill="#000"/>
<text x="802" y="585" font-size="12" fill="#f09030" textLength="50" lengthAdjust="spacingAndGlyphs">计数变量</text>
</g>

<!-- loop i terminal -->
<rect x="158" y="645" width="14" height="14" fill="#fff" stroke="#0000b0" stroke-width="2"/>
<path d="M165 650 V656 M165 647.5 V648.5" stroke="#0000b0" stroke-width="2"/>

<!-- ===== bottom queue ===== -->
<g>
<path d="M0 677.5 H7 M0 685.5 H7" stroke="#c040c0" stroke-width="1.4" fill="none"/>
<path d="M0.5 685 V701" stroke="#600060" stroke-width="1.5" fill="none"/>
<rect x="6.5" y="674.5" width="31" height="30" fill="#fcf8d0" stroke="#000" stroke-width="1"/>
<path d="M21.5 678 V689 M16 684 H27 M17.5 680 L25.5 688 M25.5 680 L17.5 688" stroke="#000" stroke-width="1"/>
<rect x="15.5" y="691.5" width="12" height="8" fill="#fcf8d0" stroke="#000" stroke-width="1"/>
<path d="M19.5 691.5 V699.5 M23.5 691.5 V699.5 M10 695.5 H15 M28 695.5 H33 M30.5 693 L33 695.5 L30.5 698" stroke="#000" stroke-width="1" fill="none"/>
<path d="M37 677.5 H338.5 V688 M94 677.5 V701" stroke="#22367e" stroke-width="3" fill="none"/>
<path d="M37 677.5 H338.5 V688 M94 677.5 V701" stroke="#fff" stroke-width="1" stroke-dasharray="1 3" fill="none"/>
<circle cx="94" cy="677.5" r="2" fill="#c040c0"/>
<rect x="334.5" y="687.5" width="8" height="8" fill="#1a8a8a" stroke="#000" stroke-width="1"/>
<text x="491" y="709" font-size="12" fill="#202020">主层显示图像.vi</text>
</g>

<!-- ===== left floating window ===== -->
<g>
<rect x="-5" y="442" width="60.5" height="170.5" fill="#000" opacity="0.035"/>
<rect x="-2" y="440.5" width="55" height="169.5" fill="#fafafa" stroke="#a4a4a4" stroke-width="1"/>
<rect x="29.5" y="447.5" width="15.5" height="15" fill="#fff" stroke="#8a8a8a" stroke-width="1" rx="1.5"/>
<rect x="33.5" y="451.5" width="7.5" height="7" fill="none" stroke="#505050" stroke-width="0.8"/>
<path d="M34.5 452.5 L40 458 M40 452.5 L34.5 458" stroke="#303030" stroke-width="1.3"/>
<rect x="-2" y="466" width="48" height="135.5" fill="#fff" stroke="#828790" stroke-width="1"/>
<rect x="28" y="466.5" width="17.5" height="118" fill="#f0f0f0"/>
<rect x="-2" y="585" width="47.5" height="16" fill="#f0f0f0"/>
<path d="M34 479 L37 476 L40 479Z M34 572 L37 575 L40 572Z M17 589 L20 592 L17 595Z" fill="#505050"/>
<g fill="#b0b0b0"><rect x="41" y="597" width="1" height="1"/><rect x="38" y="597" width="1" height="1"/><rect x="35" y="597" width="1" height="1"/><rect x="41" y="594" width="1" height="1"/><rect x="38" y="594" width="1" height="1"/><rect x="41" y="591" width="1" height="1"/></g>
<text x="-0.5" y="538" font-size="12.5" fill="#7a7a7a" textLength="27.5" lengthAdjust="spacingAndGlyphs">itude</text>
</g>

</svg>
</body></html>
